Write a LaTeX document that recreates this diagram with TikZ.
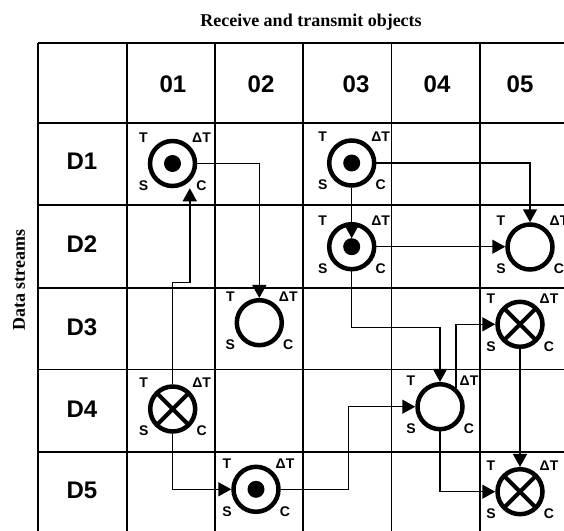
\documentclass[tikz,border=0pt]{standalone}
\usepackage{fontspec}
\setmainfont{Liberation Sans}
\newfontfamily\serifbold{Liberation Serif}
\usetikzlibrary{arrows.meta}

\begin{document}
\begin{tikzpicture}[x=1pt, y=-1pt,
    obj/.style={circle, draw, line width=4.5pt, minimum size=45pt, inner sep=0pt},
    dotobj/.style={obj, path picture={\fill (path picture bounding box.center) circle (8.5pt);}},
    crossobj/.style={obj, path picture={\draw[line width=4pt] (path picture bounding box.south west) -- (path picture bounding box.north east) (path picture bounding box.north west) -- (path picture bounding box.south east);}},
    lbl/.style={font=\bfseries\fontsize{14}{14}\selectfont, inner sep=0pt},
    hd/.style={font=\bfseries\fontsize{24}{24}\selectfont, inner sep=0pt},
    ttl/.style={font=\serifbold\bfseries\fontsize{18}{18}\selectfont, inner sep=0pt},
    arr/.style={line width=1.5pt, -{Triangle[length=13pt, width=14pt]}}]
        \useasboundingbox (0,0) rectangle (564,530);

        % Draw the titles
        \node[ttl] (title) at (311,22) {Receive and transmit objects};
        \node[ttl, rotate=90] (side) at (19,280) {Data streams};

        \begin{scope}
        \clip (0,0) rectangle (564,530);
        % Draw the table lines
        \foreach \x in {38,126.7,215,303,391.5,480}
          \draw[line width=1.8pt] (\x,43) -- (\x,540);
        \foreach \y in {43,122.7,205,287.7,369.5,452}
          \draw[line width=1.8pt] (38,\y) -- (570,\y);
        \end{scope}

        % Column and row headers
        \foreach \num/\x in {01/173,02/261,03/356,04/437,05/520}
          \node[hd] (h\num) at (\x,84) {\num};
        \foreach \i/\y in {1/161,2/244,3/327,4/409,5/490}
          \node[hd] (r\i) at (82,\y) {D\i};

        % Draw the objects with their T, dT, S, C marks
        \foreach \nm/\x/\y/\kind in {d11/172.5/163.5/dotobj, d13/351.7/163/dotobj,
            d23/351.7/246.7/dotobj, d25/530/247/obj, d32/259.3/322.7/obj,
            d35/520/324.3/crossobj, d41/172.7/409/crossobj, d44/440/406.7/obj,
            d52/256/489.3/dotobj, d55/520/491.7/crossobj}
        {
          \node[\kind] (\nm) at (\x,\y) {};
          \node[lbl] (\nm t) at ({\x-29},{\y-26}) {T};
          \node[lbl] (\nm dt) at ({\x+29},{\y-26}) {ΔT};
          \node[lbl] (\nm s) at ({\x-29},{\y+22}) {S};
          \node[lbl] (\nm c) at ({\x+29},{\y+22}) {C};
        }

        % Draw the transfers
        \draw[arr] (d11.east) -| (d32.north);
        \draw[arr] (d41.north) -- ++(0,-102) -| ([xshift=17.3pt]d11.south);
        \draw[arr] (d13.east) -| (d25.north);
        \draw[arr] (d13.south) -- ([yshift=8.5pt]d23.center);
        \draw[arr] (d23.east) -- (d23.east -| d25.west);
        \draw[arr] (d23.south) -- ++(0,56) -| (d44.north);
        \draw[arr] (d44.50) |- (d35.west);
        \draw[arr] (d52.east) -- ++(67.5,0) |- (d44.west);
        \draw[arr] (d41.south) |- (d52.west);
        \draw[arr] (d35.south) -- (d55.north);
        \draw[arr] (d44.south) |- (d55.west);
      \end{tikzpicture}
\end{document}
